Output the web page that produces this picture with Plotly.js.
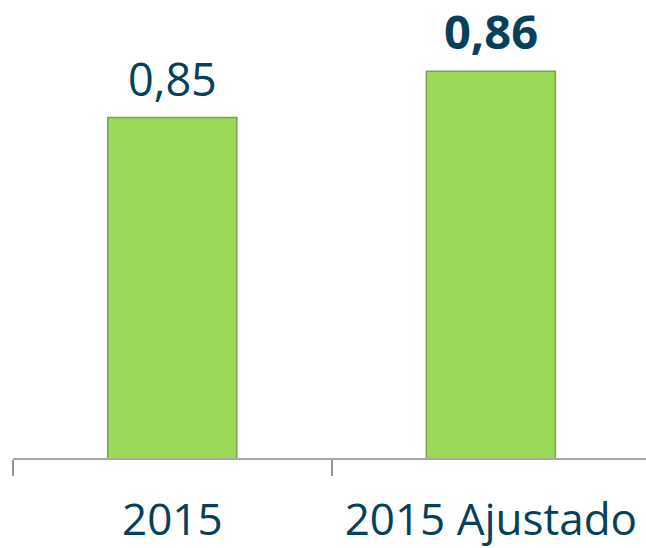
<!DOCTYPE html>
<html>
<head>
<meta charset="utf-8">
<script src="https://cdn.plot.ly/plotly-3.0.1.min.js"></script>
<style>html,body{margin:0;padding:0;background:#fff;overflow:hidden}</style>
</head>
<body>
<div id="chart" style="width:646px;height:548px"></div>
<script>
const categories = ['2015', '2015 Ajustado'];
const values = [0.85, 0.86];
const labels = ['0,85', '<b>0,86</b>'];

const trace = {
  type: 'bar',
  x: categories,
  y: values,
  marker: {color: '#9ad957', line: {color: '#76a641', width: 1.5}},
  hoverinfo: 'skip'
};

const annotations = categories.map((c, i) => ({
  x: i, y: values[i], xref: 'x', yref: 'y',
  text: labels[i], showarrow: false,
  yanchor: 'bottom', yshift: 6,
  font: {family: 'Open Sans', size: i === 1 ? 47 : 45, color: '#06405a'}
}));

const layout = {
  width: 646, height: 548,
  margin: {l: 13, r: 0, t: 0, b: 90},
  paper_bgcolor: '#fff', plot_bgcolor: '#fff',
  bargap: 0.595,
  showlegend: false,
  xaxis: {
    type: 'category',
    range: [-0.5, 1.487],
    showline: true, linecolor: '#a3a8ad', linewidth: 2,
    ticks: 'outside', tickson: 'boundaries', ticklen: 16, tickwidth: 2, tickcolor: '#8f9599',
    ticklabelstandoff: 22,
    tickfont: {family: 'Open Sans', size: 44, color: '#06405a'},
    showgrid: false, zeroline: false, fixedrange: true
  },
  yaxis: {
    range: [0.776, 0.8755],
    visible: false, showgrid: false, zeroline: false, fixedrange: true
  },
  annotations: annotations
};

Plotly.newPlot('chart', [trace], layout, {displayModeBar: false, staticPlot: true});
</script>
</body>
</html>
